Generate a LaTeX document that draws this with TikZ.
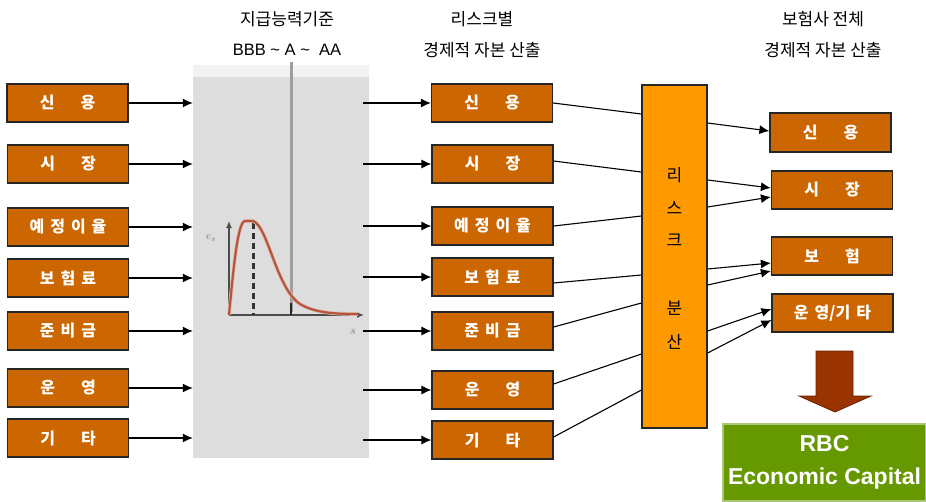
\documentclass[tikz,border=0pt]{standalone}
\usepackage{fontspec}
\setmainfont{Liberation Sans}
\newfontfamily\kr{Noto Sans CJK KR}
\usetikzlibrary{arrows.meta}
\definecolor{boxor}{HTML}{CC6600}
\definecolor{riskor}{HTML}{FF9900}
\definecolor{greybg}{HTML}{DDDDDD}
\definecolor{bigarr}{HTML}{993300}
\definecolor{rbcg}{HTML}{669900}
\definecolor{curvec}{HTML}{B4553C}
\newcommand{\kgap}{\hspace{6pt}}
\newcommand{\kwide}{\hspace{26pt}}
\tikzset{
 rbox/.style={draw=black!85, line width=1.2pt, fill=boxor, minimum width=121pt, minimum height=38pt, inner sep=0pt, text=white, font=\kr\bfseries\fontsize{16}{16}\selectfont},
 hdr/.style={font=\kr\fontsize{17}{17}\selectfont, inner sep=0pt},
 rtxt/.style={font=\kr\fontsize{17}{17}\selectfont, inner sep=0pt},
 arr/.style={line width=1.1pt, -{Latex[length=10pt,width=9pt]}},
 ln/.style={line width=1.1pt},
}
\begin{document}
\begin{tikzpicture}[x=1pt,y=-1pt]
\useasboundingbox (0,0) rectangle (926,501);
\fill[white] (0,0) rectangle (926,501);

% headers
\node[hdr] (h1) at (287,19) {지급능력기준};
\node[inner sep=0pt, font=\fontsize{16.5}{16.5}\selectfont] (h2) at (287,50) {BBB \textasciitilde{} A \textasciitilde\ \ AA};
\node[hdr] (h3) at (482,19) {리스크별};
\node[hdr] (h4) at (482,50) {경제적 자본 산출};
\node[hdr] (h5) at (823,19) {보험사 전체};
\node[hdr] (h6) at (823,50) {경제적 자본 산출};

% grey panel
\fill[black!5] (193,65) rectangle (369,77);
\node[fill=greybg, minimum width=176pt, minimum height=381pt, inner sep=0pt] (gb) at (281,267.5) {};
\draw[line width=3pt, black!38] (291,62) -- (291,312);

% distribution sketch
\draw[black!70, line width=1.5pt, -{Latex[length=7pt,width=6pt]}] (229,315) -- (229,221);
\draw[black!70, line width=1.5pt, -{Latex[length=7pt,width=6pt]}] (229,315) -- (364,315);
\draw[black!80, line width=3pt, dash pattern=on 6pt off 4pt] (253,223) -- (253,315);
\draw[black!85, line width=2.2pt] (291,303) -- (291,315);
\draw[curvec!40, line width=3.6pt] (229,315) .. controls (234,262) and (238,222) .. (245,221) -- (253,221) .. controls (268,226) and (276,288) .. (300,304) .. controls (315,313) and (335,314) .. (358,314);
\draw[curvec, line width=2.2pt] (229,315) .. controls (234,262) and (238,222) .. (245,221) -- (253,221) .. controls (268,226) and (276,288) .. (300,304) .. controls (315,313) and (335,314) .. (358,314);
\node[font=\fontsize{11}{11}\selectfont, text=black!55, inner sep=0pt] (yl) at (211,238) {$e_s$};
\node[font=\fontsize{12}{12}\selectfont, text=black!55, inner sep=0pt] (xl) at (353,332) {$s$};

% left boxes
\node[rbox] (l1) at (67.5,103) {신\kwide 용};
\node[rbox] (l2) at (68,164) {시\kwide 장};
\node[rbox] (l3) at (68,227) {예\kgap 정\kgap 이\kgap 율};
\node[rbox] (l4) at (68,278) {보\kgap 험\kgap 료};
\node[rbox] (l5) at (68,331) {준\kgap 비\kgap 금};
\node[rbox] (l6) at (68,388) {운\kwide 영};
\node[rbox] (l7) at (68,438) {기\kwide 타};

% middle boxes
\node[rbox] (m1) at (492,103) {신\kwide 용};
\node[rbox] (m2) at (492.5,164) {시\kwide 장};
\node[rbox] (m3) at (492.5,226) {예\kgap 정\kgap 이\kgap 율};
\node[rbox] (m4) at (492.5,277) {보\kgap 험\kgap 료};
\node[rbox] (m5) at (492.5,331) {준\kgap 비\kgap 금};
\node[rbox] (m6) at (492.5,390) {운\kwide 영};
\node[rbox] (m7) at (492.5,440) {기\kwide 타};

% left -> grey
\foreach \i in {1,...,7} {
  \draw[arr] (l\i.east) -- (gb.west |- l\i.east);
}
% grey -> middle
\foreach \i in {1,...,7} {
  \draw[arr, shorten <=-6pt] (gb.east |- m\i.west) -- (m\i.west);
}

% risk box
\node[draw=black!85, line width=1.2pt, fill=riskor, minimum width=65pt, minimum height=343pt, inner sep=0pt] (rb) at (674.5,256.5) {};
\node[rtxt] (rt1) at (674.5,175) {리};
\node[rtxt] (rt2) at (674.5,208) {스};
\node[rtxt] (rt3) at (674.5,240) {크};
\node[rtxt] (rt4) at (674.5,308) {분};
\node[rtxt] (rt5) at (674.5,342) {산};

% middle -> risk
\draw[ln] (m1.east) -- (rb.west |- 0,114);
\draw[ln] ([yshift=3pt]m2.east) -- (rb.west |- 0,172);
\draw[ln] (m3.east) -- (rb.west |- 0,216);
\draw[ln] ([yshift=-6pt]m4.east) -- (rb.west |- 0,275);
\draw[ln] ([yshift=4pt]m5.east) -- (rb.west |- 0,303);
\draw[ln] ([yshift=6pt]m6.east) -- (rb.west |- 0,354);
\draw[ln] ([yshift=3pt]m7.east) -- (rb.west |- 0,390);

% right boxes
\node[rbox, minimum height=39pt] (r1) at (830.5,132.5) {신\kwide 용};
\node[rbox] (r2) at (832,190) {시\kwide 장};
\node[rbox] (r3) at (832,256) {보\kwide 험};
\node[rbox] (r4) at (832.5,313) {운\kgap 영/기\kgap 타};

% risk -> right
\draw[arr] (rb.east |- 0,123) -- ([yshift=1.5pt]r1.west);
\draw[arr] (rb.east |- 0,180) -- ([yshift=2pt]r2.west);
\draw[arr] (rb.east |- 0,207) -- ([yshift=-7pt]r2.west);
\draw[arr] (rb.east |- 0,269) -- ([yshift=-7pt]r3.west);
\draw[arr] (rb.east |- 0,285) -- ([yshift=-15pt]r3.west);
\draw[arr] (rb.east |- 0,331) -- ([yshift=4pt]r4.west);
\draw[arr] (rb.east |- 0,353) -- ([yshift=-7pt]r4.west);

% big arrow
\draw[fill=bigarr, draw=bigarr!70!black, line width=0.8pt] (816,351) -- (853,351) -- (853,396) -- (871,396) -- (835,412) -- (799,396) -- (816,396) -- cycle;

% RBC box
\node[fill=rbcg, draw=rbcg!55!white, line width=1.5pt, minimum width=203pt, minimum height=77pt, inner sep=0pt, text=white, font=\bfseries\fontsize{23}{33}\selectfont, align=center] (rbc) at (824.5,462.5) {RBC\\Economic Capital};
\end{tikzpicture}
\end{document}
